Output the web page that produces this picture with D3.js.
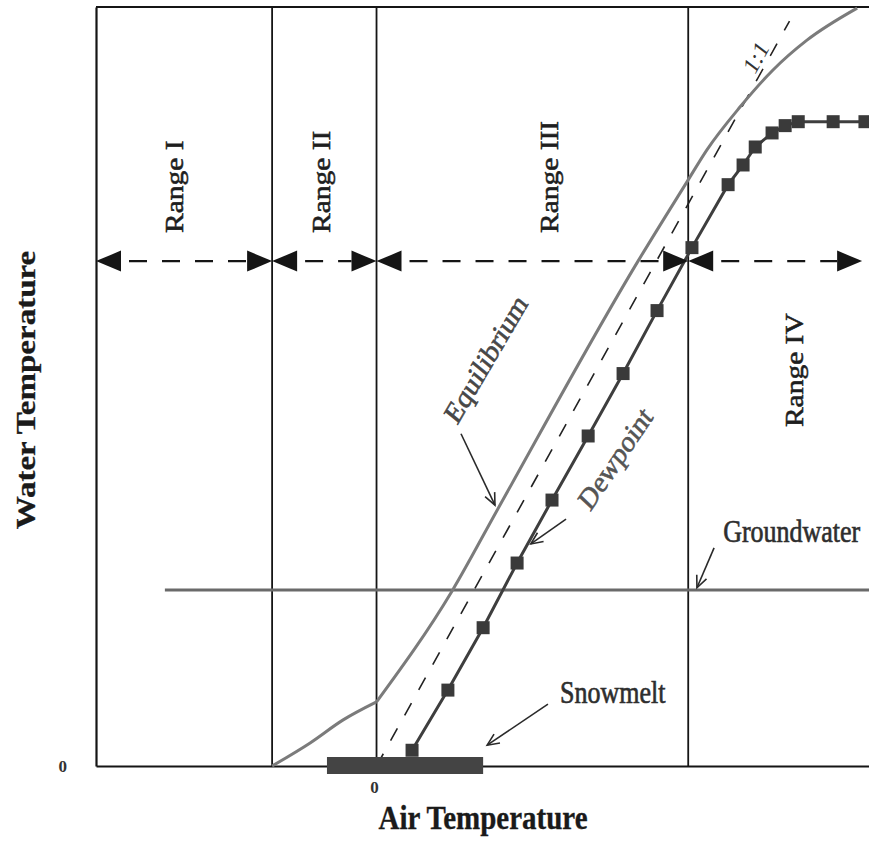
<!DOCTYPE html>
<html>
<head>
<meta charset="utf-8">
<script src="https://cdn.jsdelivr.net/npm/d3@7"></script>
<style>
  html, body { margin: 0; padding: 0; background: #fff; }
  svg { display: block; }
</style>
</head>
<body>
<script>
// ---- Data (arbitrary temperature units; 0 = freezing) ----
const airExtent = [-9, 15.8];
const waterExtent = [0, 13.5];

const rangeLabels = ["Range I", "Range II", "Range III", "Range IV"];
const rangeBounds = [-9, -3.35, 0, 10, 15.58];
const rangeArrowLevel = 8.98;
const rangeLabelAir = [-6.37, -1.68, 5.63, 13.52];
const rangeLabelWater = [9.48, 9.48, 9.48, 7.04];

const equilibriumAir   = [-3.35, -2.13, -1.07, 0, 2.42, 3.87, 8.39, 9.96, 10.60, 11.66, 12.72, 13.81, 15.42];
const equilibriumWater = [0, 0.41, 0.82, 1.14, 3.11, 4.55, 8.98, 10.39, 10.96, 11.72, 12.38, 12.91, 13.48];

const dewpointAir   = [1.14, 2.29, 3.42, 4.51, 5.63, 6.79, 7.91, 9.00, 10.12, 11.28, 11.76, 12.15, 12.69, 13.11, 13.53, 14.65, 15.67];
const dewpointWater = [0.28, 1.35, 2.46, 3.61, 4.73, 5.87, 6.98, 8.10, 9.22, 10.34, 10.69, 11.01, 11.26, 11.39, 11.46, 11.46, 11.46];

const oneToOneAir = [0, 13.25];
const groundwaterAir = [-6.79, 15.8];
const groundwaterLevel = 3.13;
const snowmeltAir = [-1.59, 3.42];

// annotation pointers: [tailAir, tailWater, tipAir, tipWater]
const pointerEquilibrium = [2.71, 5.91, 3.80, 4.64];
const pointerDewpoint    = [6.08, 4.39, 4.95, 3.95];
const pointerGroundwater = [10.83, 3.88, 10.28, 3.17];
const pointerSnowmelt    = [5.50, 1.10, 3.55, 0.37];

// ---- Layout ----
const W = 869, H = 845;
const svg = d3.select("body").append("svg").attr("width", W).attr("height", H);

const x = d3.scaleLinear().domain(airExtent).range([96, 869]);
const y = d3.scaleLinear().domain(waterExtent).range([766, 7]);

const FONT = "'Liberation Serif','Times New Roman',serif";
const S = 1.18; // lettering is drawn a little taller than wide

function label(g, px, py, deg, txt, o = {}) {
  const r = deg * Math.PI / 180;
  const a = Math.atan2(Math.sin(r) / S, Math.cos(r)) * 180 / Math.PI;
  const fill = o.fill || "#222";
  return g.append("text")
    .attr("transform", `translate(${px},${py}) scale(1,${S}) rotate(${a})`)
    .attr("text-anchor", o.anchor || "start")
    .attr("font-family", FONT)
    .attr("font-size", o.size || 25)
    .attr("font-weight", o.weight || "normal")
    .attr("fill", fill)
    .attr("stroke", fill).attr("stroke-width", o.weight === "bold" ? 0.3 : 0.55)
    .text(txt);
}

const ink = "#151515";

// ---- Frame and range dividers ----
const frame = svg.append("g");
frame.append("line")
  .attr("x1", x(airExtent[0])).attr("x2", x(airExtent[1]))
  .attr("y1", y(waterExtent[1])).attr("y2", y(waterExtent[1]))
  .attr("stroke", ink).attr("stroke-width", 2.2);

frame.selectAll("line.divider")
  .data(rangeBounds.slice(1, 4))
  .join("line")
  .attr("class", "divider")
  .attr("x1", d => x(d)).attr("x2", d => x(d))
  .attr("y1", y(waterExtent[1])).attr("y2", y(0))
  .attr("stroke", ink).attr("stroke-width", 1.8);

// Axes (only the zero tick is labelled)
const axisLeft = svg.append("g")
  .attr("transform", `translate(${x(airExtent[0])},0)`)
  .call(d3.axisLeft(y).tickValues([0]).tickFormat(() => "0").tickSize(0).tickSizeOuter(0).tickPadding(29));
const axisBottom = svg.append("g")
  .attr("transform", `translate(0,${y(0)})`)
  .call(d3.axisBottom(x).tickValues([0]).tickFormat(() => "0").tickSize(0).tickSizeOuter(0).tickPadding(15));
[axisLeft, axisBottom].forEach(a => {
  a.select(".domain").attr("stroke", ink).attr("stroke-width", 2.2);
  a.selectAll("text")
    .attr("font-family", FONT).attr("font-size", 17).attr("font-weight", "bold")
    .attr("fill", "#333");
});
axisBottom.selectAll(".tick text").attr("dx", -2.5);

// ---- Groundwater ----
svg.append("line")
  .attr("x1", x(groundwaterAir[0])).attr("x2", x(groundwaterAir[1]))
  .attr("y1", y(groundwaterLevel)).attr("y2", y(groundwaterLevel))
  .attr("stroke", "#6a6a6a").attr("stroke-width", 3.2);

// ---- 1:1 line ----
svg.append("line")
  .attr("x1", x(oneToOneAir[0])).attr("y1", y(oneToOneAir[0]))
  .attr("x2", x(oneToOneAir[1])).attr("y2", y(oneToOneAir[1]))
  .attr("stroke", "#222").attr("stroke-width", 1.6)
  .attr("stroke-dasharray", "14,15");

// ---- Equilibrium (break in slope at freezing) ----
const eq = equilibriumAir.map((a, i) => [a, equilibriumWater[i]]);
const k = equilibriumAir.indexOf(0);
const eqLine = d3.line().x(d => x(d[0])).y(d => y(d[1])).curve(d3.curveMonotoneX);
[eq.slice(0, k + 1), eq.slice(k)].forEach(part => {
  svg.append("path").attr("d", eqLine(part))
    .attr("fill", "none").attr("stroke", "#7b7b7b").attr("stroke-width", 3);
});

// ---- Dewpoint ----
const dp = dewpointAir.map((a, i) => [a, dewpointWater[i]]);
svg.append("path")
  .attr("d", d3.line().x(d => x(d[0])).y(d => y(d[1]))(dp))
  .attr("fill", "none").attr("stroke", "#3e3e3e").attr("stroke-width", 3);

// ---- Snowmelt bar ----
svg.append("rect")
  .attr("x", x(snowmeltAir[0])).attr("width", x(snowmeltAir[1]) - x(snowmeltAir[0]))
  .attr("y", y(0) - 9).attr("height", 17)
  .attr("fill", "#444");

svg.selectAll("rect.dp")
  .data(dp)
  .join("rect")
  .attr("class", "dp")
  .attr("x", d => x(d[0]) - 6.5).attr("y", d => y(d[1]) - 6.5)
  .attr("width", 13).attr("height", 13)
  .attr("fill", "#3a3a3a");

// ---- Range arrows ----
const ay = y(rangeArrowLevel);
const headL = 25, headH = 10.5;
const arrows = svg.append("g");
rangeLabels.forEach((name, i) => {
  const x0 = x(rangeBounds[i]), x1 = x(rangeBounds[i + 1]);
  arrows.append("line")
    .attr("x1", x0 + headL).attr("x2", x1 - headL)
    .attr("y1", ay).attr("y2", ay)
    .attr("stroke", ink).attr("stroke-width", 2.4)
    .attr("stroke-dasharray", "18,15").attr("stroke-dashoffset", 25);
  arrows.append("path")
    .attr("d", `M${x0},${ay} L${x0 + headL},${ay - headH} L${x0 + headL},${ay + headH} Z`)
    .attr("fill", ink);
  arrows.append("path")
    .attr("d", `M${x1},${ay} L${x1 - headL},${ay - headH} L${x1 - headL},${ay + headH} Z`)
    .attr("fill", ink);
  label(svg, x(rangeLabelAir[i]) + 5.5, y(rangeLabelWater[i]), -90, name,
        { size: 25, anchor: i === 3 ? "middle" : "start", fill: "#1e1e1e" });
});

// ---- Curve labels ----
label(svg, x(12.5) - 4, y(12.5) - 1, -61, "1:1", { size: 22, anchor: "middle", fill: "#333" })
  .attr("stroke", "#fff").attr("stroke-width", 5).attr("paint-order", "stroke");
label(svg, x(3.58) + 5, y(7.19) + 3, -59.6, "Equilibrium", { size: 26, anchor: "middle", fill: "#474747" });
label(svg, x(7.72) + 5, y(5.41) + 3, -56, "Dewpoint", { size: 26, anchor: "middle", fill: "#555" });
label(svg, x(11.12), y(3.98), 0, "Groundwater", { size: 26, fill: "#2e2e2e" });
label(svg, x(5.89), y(1.12), 0, "Snowmelt", { size: 26, fill: "#2e2e2e" });

// ---- Axis titles ----
label(svg, 483, 829, 0, "Air Temperature", { size: 29, weight: "bold", anchor: "middle", fill: "#1a1a1a" });
label(svg, 35, 390, -90, "Water Temperature", { size: 28, weight: "bold", anchor: "middle", fill: "#1a1a1a" });

// ---- Pointers with open arrowheads ----
function pointer(p) {
  const [tx, ty, hx, hy] = [x(p[0]), y(p[1]), x(p[2]), y(p[3])];
  const ang = Math.atan2(ty - hy, tx - hx);
  const len = 13, spread = 0.42;
  const g = svg.append("g").attr("stroke", "#2a2a2a").attr("stroke-width", 1.6).attr("fill", "none");
  g.append("line").attr("x1", tx).attr("y1", ty).attr("x2", hx).attr("y2", hy);
  g.append("path").attr("d",
    `M${hx + len * Math.cos(ang - spread)},${hy + len * Math.sin(ang - spread)} L${hx},${hy} L${hx + len * Math.cos(ang + spread)},${hy + len * Math.sin(ang + spread)}`);
}
[pointerEquilibrium, pointerDewpoint, pointerGroundwater, pointerSnowmelt].forEach(pointer);
</script>
</body>
</html>
